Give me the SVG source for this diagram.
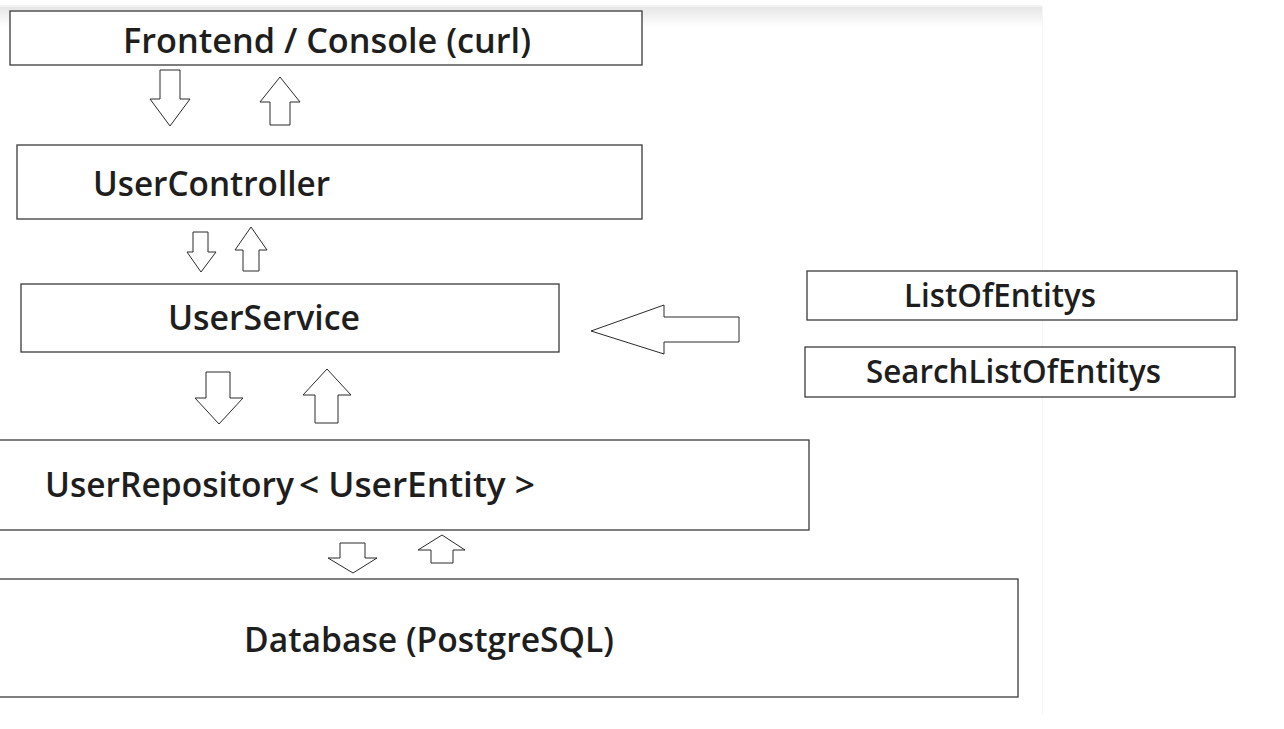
<svg xmlns="http://www.w3.org/2000/svg" width="1284" height="729" viewBox="0 0 1284 729">
  <defs>
    <linearGradient id="topShade" x1="0" y1="0" x2="0" y2="1">
      <stop offset="0" stop-color="#e6e6e6"/>
      <stop offset="1" stop-color="#ffffff"/>
    </linearGradient>
  </defs>
  <style>
    .box { fill: #ffffff; stroke: #3a3a3a; stroke-width: 1.3; }
    .lbl { font-family: "Open Sans", "Noto Sans", "Liberation Sans", sans-serif; font-weight: 600; fill: #1e1e1e; }
    .arr { fill: #ffffff; stroke: #2a2a2a; stroke-width: 1; stroke-linejoin: miter; }
  </style>
  <rect x="0" y="0" width="1284" height="729" fill="#ffffff"/>
  <rect x="0" y="5" width="1042" height="2" fill="#f3f3f3"/>
  <rect x="0" y="7" width="1042" height="20" fill="url(#topShade)"/>
  <line x1="1042.5" y1="6" x2="1042.5" y2="715" stroke="#f5f5f5" stroke-width="1"/>

  <g id="frontend">
    <rect class="box" x="10" y="11" width="632" height="54"/>
    <text class="lbl" x="123" y="53" font-size="35" textLength="408" lengthAdjust="spacingAndGlyphs">Frontend / Console (curl)</text>
  </g>
  <g id="usercontroller">
    <rect class="box" x="17" y="145" width="625" height="74"/>
    <text class="lbl" x="93" y="196" font-size="35" textLength="237" lengthAdjust="spacingAndGlyphs">UserController</text>
  </g>
  <g id="userservice">
    <rect class="box" x="21" y="284" width="538" height="68"/>
    <text class="lbl" x="168" y="330" font-size="35" textLength="192" lengthAdjust="spacingAndGlyphs">UserService</text>
  </g>
  <g id="userrepository">
    <rect class="box" x="-1" y="440" width="810" height="90"/>
    <text class="lbl" x="45" y="497" font-size="35" textLength="249" lengthAdjust="spacingAndGlyphs">UserRepository</text>
    <text class="lbl" x="299" y="497" font-size="35" textLength="236" lengthAdjust="spacingAndGlyphs">&lt; UserEntity &gt;</text>
  </g>
  <g id="database">
    <rect class="box" x="-1" y="579" width="1019" height="118"/>
    <text class="lbl" x="244" y="652" font-size="35" textLength="370" lengthAdjust="spacingAndGlyphs">Database (PostgreSQL)</text>
  </g>
  <g id="listofentitys">
    <rect class="box" x="807" y="271" width="430" height="49"/>
    <text class="lbl" x="904" y="307" font-size="32" textLength="192" lengthAdjust="spacingAndGlyphs">ListOfEntitys</text>
  </g>
  <g id="searchlistofentitys">
    <rect class="box" x="805" y="347" width="430" height="50"/>
    <text class="lbl" x="866" y="383" font-size="32" textLength="295" lengthAdjust="spacingAndGlyphs">SearchListOfEntitys</text>
  </g>

  <g id="connectors">
    <polygon class="arr" points="160,70 180,70 180,99 190,99 170,126 150,99 160,99"/>
    <polygon class="arr" points="280,77 300,102 290,102 290,125 270,125 270,102 260,102"/>
    <polygon class="arr" points="193,232 208,232 208,252 216,252 201,272 187,252 193,252"/>
    <polygon class="arr" points="251,227 267,250 259,250 259,271 243,271 243,250 235,250"/>
    <polygon class="arr" points="206,372 230,372 230,398 243,398 219,424 195,398 206,398"/>
    <polygon class="arr" points="327,369 351,395 338,395 338,423 315,423 315,395 303,395"/>
    <polygon class="arr" points="340,543 365,543 365,558 377,558 353,573 328,558 340,558"/>
    <polygon class="arr" points="442,535 465,550 453,550 453,563 431,563 431,550 418,550"/>
    <polygon class="arr" points="591,331 664,305 664,317 739,317 739,342 664,342 664,354"/>
  </g>
</svg>
